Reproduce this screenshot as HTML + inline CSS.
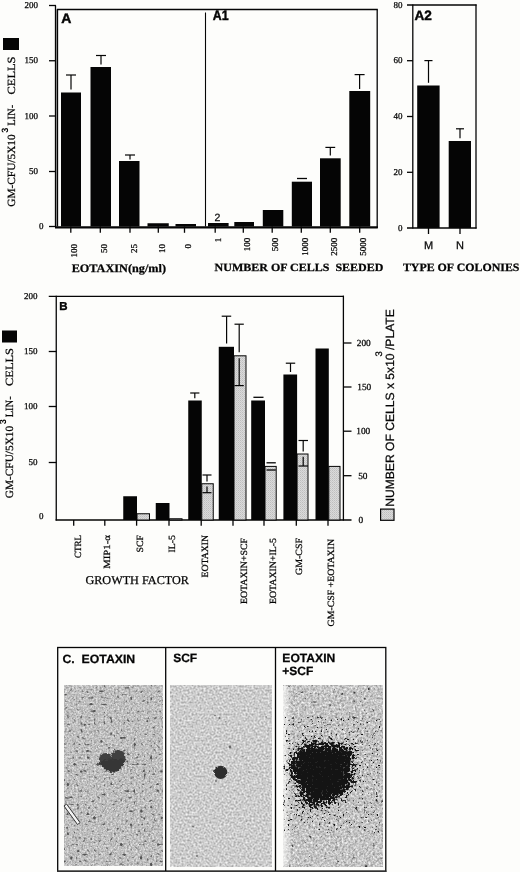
<!DOCTYPE html>
<html><head><meta charset="utf-8"><title>Figure</title>
<style>html,body{margin:0;padding:0;background:#fdfdfb;}body{width:520px;height:872px;overflow:hidden;font-family:"Liberation Sans",sans-serif;}svg{display:block;text-rendering:geometricPrecision;opacity:0.999;will-change:transform;filter:blur(0.35px)}text{white-space:pre}</style>
</head><body>
<svg width="520" height="872" viewBox="0 0 520 872">
<rect width="520" height="872" fill="#fdfdfb"/>

<defs>
<clipPath id="c3"><rect x="283" y="685.7" width="99.4" height="180.4"/></clipPath>
<pattern id="dots" width="2" height="2" patternUnits="userSpaceOnUse"><rect width="2" height="2" fill="#dadada"/><rect width="1" height="1" fill="#bebebe"/><rect x="1" y="1" width="1" height="1" fill="#cacaca"/></pattern>
<radialGradient id="big"><stop offset="0" stop-color="#000" stop-opacity="1"/><stop offset="0.45" stop-color="#000" stop-opacity="0.95"/><stop offset="0.75" stop-color="#000" stop-opacity="0.5"/><stop offset="1" stop-color="#000" stop-opacity="0"/></radialGradient>
<filter id="n1" x="0" y="0" width="1" height="1" color-interpolation-filters="sRGB">
  <feTurbulence type="fractalNoise" baseFrequency="0.55" numOctaves="3" seed="4" result="t"/>
  <feColorMatrix in="t" type="matrix" values="0.5 0 0 0 0.5  0.5 0 0 0 0.5  0.5 0 0 0 0.5  0 0 0 0 1" result="g"/>
  <feTurbulence type="fractalNoise" baseFrequency="0.3" numOctaves="1" seed="11" result="s"/>
  <feColorMatrix in="s" type="matrix" values="0 0 0 0 0  0 0 0 0 0  0 0 0 0 0  8 0 0 0 -5.05" result="sp"/>
  <feFlood flood-color="#555" result="fl"/>
  <feComposite in="fl" in2="sp" operator="in" result="spk"/>
  <feComposite in="spk" in2="g" operator="over" result="c"/>
  <feGaussianBlur in="c" stdDeviation="0.5"/>
</filter>
<filter id="n2" x="0" y="0" width="1" height="1" color-interpolation-filters="sRGB">
  <feTurbulence type="fractalNoise" baseFrequency="0.5" numOctaves="3" seed="7" result="t"/>
  <feColorMatrix in="t" type="matrix" values="0.5 0 0 0 0.55  0.5 0 0 0 0.55  0.5 0 0 0 0.55  0 0 0 0 1" result="g"/>
  <feTurbulence type="fractalNoise" baseFrequency="0.2" numOctaves="2" seed="21" result="s"/>
  <feColorMatrix in="s" type="matrix" values="0 0 0 0 0  0 0 0 0 0  0 0 0 0 0  7 0 0 0 -5.6" result="sp"/>
  <feFlood flood-color="#666" result="fl"/>
  <feComposite in="fl" in2="sp" operator="in" result="spk"/>
  <feComposite in="spk" in2="g" operator="over" result="c"/>
  <feGaussianBlur in="c" stdDeviation="0.45"/>
</filter>
<filter id="n3" x="0" y="0" width="1" height="1" color-interpolation-filters="sRGB">
  <feTurbulence type="fractalNoise" baseFrequency="0.45" numOctaves="3" seed="9" result="t"/>
  <feColorMatrix in="t" type="matrix" values="0.6 0 0 0 0.47  0.6 0 0 0 0.47  0.6 0 0 0 0.47  0 0 0 0 1" result="g"/>
  <feTurbulence type="fractalNoise" baseFrequency="0.25" numOctaves="2" seed="31" result="s"/>
  <feColorMatrix in="s" type="matrix" values="0 0 0 0 0  0 0 0 0 0  0 0 0 0 0  7 0 0 0 -4.9" result="sp"/>
  <feFlood flood-color="#3c3c3c" result="fl"/>
  <feComposite in="fl" in2="sp" operator="in" result="spk"/>
  <feComposite in="spk" in2="g" operator="over" result="c"/>
  <feGaussianBlur in="c" stdDeviation="0.45"/>
</filter>
<filter id="rag1" x="-0.4" y="-0.4" width="1.8" height="1.8" color-interpolation-filters="sRGB">
  <feTurbulence type="fractalNoise" baseFrequency="0.3" numOctaves="2" seed="5" result="t"/>
  <feDisplacementMap in="SourceGraphic" in2="t" scale="4" xChannelSelector="R" yChannelSelector="G" result="d"/>
  <feGaussianBlur in="d" stdDeviation="0.7"/>
</filter>
<filter id="rag2" x="-0.4" y="-0.4" width="1.8" height="1.8" color-interpolation-filters="sRGB">
  <feTurbulence type="fractalNoise" baseFrequency="0.4" numOctaves="2" seed="8" result="t"/>
  <feDisplacementMap in="SourceGraphic" in2="t" scale="2.5" xChannelSelector="R" yChannelSelector="G" result="d"/>
  <feGaussianBlur in="d" stdDeviation="0.7"/>
</filter>
<filter id="rag3" x="-0.4" y="-0.4" width="1.8" height="1.8" color-interpolation-filters="sRGB">
  <feGaussianBlur in="SourceAlpha" stdDeviation="5.5" result="b"/>
  <feTurbulence type="fractalNoise" baseFrequency="0.42" numOctaves="2" seed="15" result="t"/>
  <feColorMatrix in="t" type="matrix" values="0 0 0 0 0  0 0 0 0 0  0 0 0 0 0  2.0 0 0 0 -0.6" result="na"/>
  <feComposite in="b" in2="na" operator="arithmetic" k1="0" k2="0.5" k3="0.55" k4="0" result="sum"/>
  <feComponentTransfer in="sum" result="th"><feFuncA type="linear" slope="8" intercept="-3.1"/></feComponentTransfer>
  <feFlood flood-color="#141414" result="fl"/>
  <feComposite in="fl" in2="th" operator="in" result="col"/>
  <feGaussianBlur in="col" stdDeviation="0.5"/>
</filter>
<linearGradient id="fadeL" x1="0" x2="1" y1="0" y2="0"><stop offset="0" stop-color="#fdfdfb" stop-opacity="0.75"/><stop offset="1" stop-color="#fdfdfb" stop-opacity="0"/></linearGradient>
</defs>

<line x1="55.5" y1="5.5" x2="55.5" y2="227.1" stroke="#050505" stroke-width="1.3"/>
<line x1="49" y1="5.5" x2="56" y2="5.5" stroke="#050505" stroke-width="1.3"/>
<line x1="49" y1="60.75" x2="56" y2="60.75" stroke="#050505" stroke-width="1.3"/>
<line x1="49" y1="116" x2="56" y2="116" stroke="#050505" stroke-width="1.3"/>
<line x1="49" y1="171.5" x2="56" y2="171.5" stroke="#050505" stroke-width="1.3"/>
<line x1="49" y1="226.5" x2="56" y2="226.5" stroke="#050505" stroke-width="1.3"/>
<line x1="57.5" y1="9.5" x2="57.5" y2="226.5" stroke="#050505" stroke-width="1.3"/>
<line x1="56.5" y1="9.5" x2="56.5" y2="226.5" stroke="#777" stroke-width="0.9"/>
<line x1="56.9" y1="9.5" x2="377.8" y2="9.5" stroke="#050505" stroke-width="1.3"/>
<line x1="377.2" y1="9.5" x2="377.2" y2="228.0" stroke="#050505" stroke-width="1.3"/>
<line x1="55" y1="227.4" x2="377.8" y2="227.4" stroke="#050505" stroke-width="2.2"/>
<line x1="205.5" y1="12.5" x2="205.5" y2="226.5" stroke="#050505" stroke-width="1.1"/>
<text x="37.9" y="8.0" font-family="'Liberation Serif', serif" font-size="9" font-weight="normal" text-anchor="end" fill="#050505" stroke="#050505" stroke-width="0.25" >200</text>
<text x="37.9" y="63.25" font-family="'Liberation Serif', serif" font-size="9" font-weight="normal" text-anchor="end" fill="#050505" stroke="#050505" stroke-width="0.25" >150</text>
<text x="37.9" y="118.5" font-family="'Liberation Serif', serif" font-size="9" font-weight="normal" text-anchor="end" fill="#050505" stroke="#050505" stroke-width="0.25" >100</text>
<text x="37.9" y="174.0" font-family="'Liberation Serif', serif" font-size="9" font-weight="normal" text-anchor="end" fill="#050505" stroke="#050505" stroke-width="0.25" >50</text>
<text x="39" y="229.1" font-family="'Liberation Serif', serif" font-size="9" font-weight="normal" text-anchor="start" fill="#050505" stroke="#050505" stroke-width="0.25" >0</text>
<rect x="3" y="38" width="16" height="12" fill="#050505" />
<rect x="61" y="92.5" width="20" height="134.0" fill="#050505" />
<rect x="90.5" y="67" width="20.5" height="159.5" fill="#050505" />
<rect x="119" y="161" width="20.5" height="65.5" fill="#050505" />
<rect x="147.5" y="223.25" width="21.25" height="3.25" fill="#050505" />
<rect x="175.5" y="224" width="20.5" height="2.5" fill="#050505" />
<rect x="208" y="223" width="20.6" height="3.5" fill="#050505" />
<rect x="234.3" y="222" width="19.7" height="4.5" fill="#050505" />
<rect x="262.8" y="210" width="20.5" height="16.5" fill="#050505" />
<rect x="291.8" y="181.7" width="20.2" height="44.8" fill="#050505" />
<rect x="320" y="158.3" width="20.7" height="68.2" fill="#050505" />
<rect x="349.3" y="91" width="20.9" height="135.5" fill="#050505" />
<line x1="71" y1="75" x2="71" y2="89.5" stroke="#050505" stroke-width="1.2"/>
<line x1="66" y1="75" x2="76" y2="75" stroke="#050505" stroke-width="1.2"/>
<line x1="101" y1="55.5" x2="101" y2="64.5" stroke="#050505" stroke-width="1.2"/>
<line x1="96" y1="55.5" x2="106" y2="55.5" stroke="#050505" stroke-width="1.2"/>
<line x1="130" y1="155" x2="130" y2="159.5" stroke="#050505" stroke-width="1.2"/>
<line x1="125" y1="155" x2="135" y2="155" stroke="#050505" stroke-width="1.2"/>
<line x1="297" y1="178.5" x2="307" y2="178.5" stroke="#050505" stroke-width="1.3"/>
<line x1="330.3" y1="147.4" x2="330.3" y2="155.4" stroke="#050505" stroke-width="1.2"/>
<line x1="325.4" y1="147.4" x2="335.2" y2="147.4" stroke="#050505" stroke-width="1.2"/>
<line x1="359.6" y1="74.6" x2="359.6" y2="89" stroke="#050505" stroke-width="1.2"/>
<line x1="354.6" y1="74.6" x2="364.6" y2="74.6" stroke="#050505" stroke-width="1.2"/>
<line x1="70.8" y1="226.5" x2="70.8" y2="232.8" stroke="#050505" stroke-width="1.3"/>
<line x1="100.3" y1="226.5" x2="100.3" y2="232.8" stroke="#050505" stroke-width="1.3"/>
<line x1="130" y1="226.5" x2="130" y2="232.8" stroke="#050505" stroke-width="1.3"/>
<line x1="158.3" y1="226.5" x2="158.3" y2="232.8" stroke="#050505" stroke-width="1.3"/>
<line x1="184.5" y1="226.5" x2="184.5" y2="232.8" stroke="#050505" stroke-width="1.3"/>
<line x1="215.2" y1="226.5" x2="215.2" y2="232.8" stroke="#050505" stroke-width="1.3"/>
<line x1="243.3" y1="226.5" x2="243.3" y2="232.8" stroke="#050505" stroke-width="1.3"/>
<line x1="272.2" y1="226.5" x2="272.2" y2="232.8" stroke="#050505" stroke-width="1.3"/>
<line x1="301.3" y1="226.5" x2="301.3" y2="232.8" stroke="#050505" stroke-width="1.3"/>
<line x1="330.3" y1="226.5" x2="330.3" y2="232.8" stroke="#050505" stroke-width="1.3"/>
<line x1="359.7" y1="226.5" x2="359.7" y2="232.8" stroke="#050505" stroke-width="1.3"/>
<text x="77.39999999999999" y="244" font-family="'Liberation Serif', serif" font-size="9" font-weight="normal" text-anchor="end" fill="#050505" stroke="#050505" stroke-width="0.25" transform="rotate(-90 77.39999999999999 244)" >100</text>
<text x="106.89999999999999" y="244" font-family="'Liberation Serif', serif" font-size="9" font-weight="normal" text-anchor="end" fill="#050505" stroke="#050505" stroke-width="0.25" transform="rotate(-90 106.89999999999999 244)" >50</text>
<text x="136.6" y="244" font-family="'Liberation Serif', serif" font-size="9" font-weight="normal" text-anchor="end" fill="#050505" stroke="#050505" stroke-width="0.25" transform="rotate(-90 136.6 244)" >25</text>
<text x="164.9" y="244" font-family="'Liberation Serif', serif" font-size="9" font-weight="normal" text-anchor="end" fill="#050505" stroke="#050505" stroke-width="0.25" transform="rotate(-90 164.9 244)" >10</text>
<text x="191.1" y="244" font-family="'Liberation Serif', serif" font-size="9" font-weight="normal" text-anchor="end" fill="#050505" stroke="#050505" stroke-width="0.25" transform="rotate(-90 191.1 244)" >0</text>
<text x="221.5" y="237.8" font-family="'Liberation Serif', serif" font-size="9" font-weight="normal" text-anchor="end" fill="#050505" stroke="#050505" stroke-width="0.25" transform="rotate(-90 221.5 237.8)" >1</text>
<text x="249.60000000000002" y="237.8" font-family="'Liberation Serif', serif" font-size="9" font-weight="normal" text-anchor="end" fill="#050505" stroke="#050505" stroke-width="0.25" transform="rotate(-90 249.60000000000002 237.8)" >100</text>
<text x="278.5" y="237.8" font-family="'Liberation Serif', serif" font-size="9" font-weight="normal" text-anchor="end" fill="#050505" stroke="#050505" stroke-width="0.25" transform="rotate(-90 278.5 237.8)" >500</text>
<text x="307.6" y="237.8" font-family="'Liberation Serif', serif" font-size="9" font-weight="normal" text-anchor="end" fill="#050505" stroke="#050505" stroke-width="0.25" transform="rotate(-90 307.6 237.8)" >1000</text>
<text x="336.6" y="237.8" font-family="'Liberation Serif', serif" font-size="9" font-weight="normal" text-anchor="end" fill="#050505" stroke="#050505" stroke-width="0.25" transform="rotate(-90 336.6 237.8)" >2500</text>
<text x="366.0" y="237.8" font-family="'Liberation Serif', serif" font-size="9" font-weight="normal" text-anchor="end" fill="#050505" stroke="#050505" stroke-width="0.25" transform="rotate(-90 366.0 237.8)" >5000</text>
<text x="214.5" y="221.2" font-family="'Liberation Sans', sans-serif" font-size="10.5" font-weight="normal" text-anchor="start" fill="#050505" stroke="#050505" stroke-width="0.25" >2</text>
<text x="61.2" y="23.1" font-family="'Liberation Sans', sans-serif" font-size="14" font-weight="bold" text-anchor="start" fill="#050505" stroke="#050505" stroke-width="0.45" >A</text>
<text x="212.8" y="20.4" font-family="'Liberation Sans', sans-serif" font-size="13.8" font-weight="bold" text-anchor="start" fill="#050505" stroke="#050505" stroke-width="0.45" textLength="15.8" lengthAdjust="spacingAndGlyphs" >A1</text>
<text x="71.7" y="271.5" font-family="'Liberation Serif', serif" font-size="11.5" font-weight="bold" text-anchor="start" fill="#050505" stroke="#050505" stroke-width="0.25" textLength="94.3" lengthAdjust="spacingAndGlyphs" >EOTAXIN(ng/ml)</text>
<text x="214.6" y="270.8" font-family="'Liberation Serif', serif" font-size="11" font-weight="bold" text-anchor="start" fill="#050505" stroke="#050505" stroke-width="0.25" textLength="168.8" lengthAdjust="spacingAndGlyphs" xml:space="preserve">NUMBER OF CELLS&#160;&#160;SEEDED</text>
<text x="14.8" y="206.8" font-family="'Liberation Serif', serif" font-size="11" font-weight="normal" text-anchor="start" fill="#050505" stroke="#050505" stroke-width="0.25" transform="rotate(-90 14.8 206.8)" textLength="72.5" lengthAdjust="spacingAndGlyphs" >GM-CFU/5X10</text>
<text x="7.9" y="132.8" font-family="'Liberation Sans', sans-serif" font-size="9.2" font-weight="bold" text-anchor="start" fill="#050505" stroke="#050505" stroke-width="0" transform="rotate(-90 7.9 132.8)" >3</text>
<text x="14.8" y="125.80000000000001" font-family="'Liberation Serif', serif" font-size="11" font-weight="normal" text-anchor="start" fill="#050505" stroke="#050505" stroke-width="0.25" transform="rotate(-90 14.8 125.80000000000001)" textLength="21" lengthAdjust="spacingAndGlyphs" >LIN-</text>
<text x="14.8" y="94.50000000000001" font-family="'Liberation Serif', serif" font-size="11" font-weight="normal" text-anchor="start" fill="#050505" stroke="#050505" stroke-width="0.25" transform="rotate(-90 14.8 94.50000000000001)" textLength="38" lengthAdjust="spacingAndGlyphs" >CELLS</text>
<line x1="412.8" y1="4.4" x2="412.8" y2="228.6" stroke="#050505" stroke-width="1.3"/>
<line x1="476" y1="4.4" x2="476" y2="228.6" stroke="#050505" stroke-width="1.3"/>
<line x1="407" y1="5" x2="476.6" y2="5" stroke="#050505" stroke-width="1.3"/>
<line x1="407" y1="228" x2="476.6" y2="228" stroke="#050505" stroke-width="1.4"/>
<line x1="407" y1="60.7" x2="413" y2="60.7" stroke="#050505" stroke-width="1.3"/>
<line x1="407" y1="116.5" x2="413" y2="116.5" stroke="#050505" stroke-width="1.3"/>
<line x1="407" y1="172.3" x2="413" y2="172.3" stroke="#050505" stroke-width="1.3"/>
<text x="402.4" y="7.6" font-family="'Liberation Serif', serif" font-size="9" font-weight="normal" text-anchor="end" fill="#050505" stroke="#050505" stroke-width="0.25" >80</text>
<text x="402.4" y="63.300000000000004" font-family="'Liberation Serif', serif" font-size="9" font-weight="normal" text-anchor="end" fill="#050505" stroke="#050505" stroke-width="0.25" >60</text>
<text x="402.4" y="119.1" font-family="'Liberation Serif', serif" font-size="9" font-weight="normal" text-anchor="end" fill="#050505" stroke="#050505" stroke-width="0.25" >40</text>
<text x="402.4" y="174.9" font-family="'Liberation Serif', serif" font-size="9" font-weight="normal" text-anchor="end" fill="#050505" stroke="#050505" stroke-width="0.25" >20</text>
<text x="402.4" y="230.6" font-family="'Liberation Serif', serif" font-size="9" font-weight="normal" text-anchor="end" fill="#050505" stroke="#050505" stroke-width="0.25" >0</text>
<rect x="417.2" y="85.5" width="22.4" height="142.5" fill="#050505" />
<rect x="448.7" y="141" width="22.3" height="87" fill="#050505" />
<line x1="428.5" y1="60.6" x2="428.5" y2="82.8" stroke="#050505" stroke-width="1.2"/>
<line x1="424.4" y1="60.6" x2="432.5" y2="60.6" stroke="#050505" stroke-width="1.2"/>
<line x1="460" y1="128.8" x2="460" y2="138.2" stroke="#050505" stroke-width="1.2"/>
<line x1="456" y1="128.8" x2="464" y2="128.8" stroke="#050505" stroke-width="1.2"/>
<line x1="428.5" y1="228" x2="428.5" y2="234" stroke="#050505" stroke-width="1.3"/>
<line x1="460" y1="228" x2="460" y2="234" stroke="#050505" stroke-width="1.3"/>
<text x="428.6" y="248.7" font-family="'Liberation Sans', sans-serif" font-size="11" font-weight="normal" text-anchor="middle" fill="#050505" stroke="#050505" stroke-width="0.25" >M</text>
<text x="460" y="248.7" font-family="'Liberation Sans', sans-serif" font-size="11" font-weight="normal" text-anchor="middle" fill="#050505" stroke="#050505" stroke-width="0.25" >N</text>
<text x="414.4" y="19.7" font-family="'Liberation Sans', sans-serif" font-size="13.6" font-weight="bold" text-anchor="start" fill="#050505" stroke="#050505" stroke-width="0.45" >A2</text>
<text x="402.9" y="271" font-family="'Liberation Serif', serif" font-size="11.2" font-weight="bold" text-anchor="start" fill="#050505" stroke="#050505" stroke-width="0.25" textLength="116.6" lengthAdjust="spacingAndGlyphs" >TYPE OF COLONIES</text>
<line x1="56.25" y1="295.7" x2="56.25" y2="520.6" stroke="#050505" stroke-width="1.3"/>
<line x1="343.4" y1="295.7" x2="343.4" y2="520.6" stroke="#050505" stroke-width="1.3"/>
<line x1="48.75" y1="296.3" x2="344" y2="296.3" stroke="#050505" stroke-width="1.3"/>
<line x1="55.6" y1="520" x2="351.5" y2="520" stroke="#050505" stroke-width="1.4"/>
<line x1="48.75" y1="351.5" x2="56.5" y2="351.5" stroke="#050505" stroke-width="1.3"/>
<line x1="48.75" y1="406.5" x2="56.5" y2="406.5" stroke="#050505" stroke-width="1.3"/>
<line x1="48.75" y1="462.5" x2="56.5" y2="462.5" stroke="#050505" stroke-width="1.3"/>
<text x="37.6" y="298.90000000000003" font-family="'Liberation Serif', serif" font-size="9" font-weight="normal" text-anchor="end" fill="#050505" stroke="#050505" stroke-width="0.25" >200</text>
<text x="37.6" y="354.1" font-family="'Liberation Serif', serif" font-size="9" font-weight="normal" text-anchor="end" fill="#050505" stroke="#050505" stroke-width="0.25" >150</text>
<text x="37.6" y="409.1" font-family="'Liberation Serif', serif" font-size="9" font-weight="normal" text-anchor="end" fill="#050505" stroke="#050505" stroke-width="0.25" >100</text>
<text x="37.6" y="465.1" font-family="'Liberation Serif', serif" font-size="9" font-weight="normal" text-anchor="end" fill="#050505" stroke="#050505" stroke-width="0.25" >50</text>
<text x="39" y="519.4" font-family="'Liberation Serif', serif" font-size="9" font-weight="normal" text-anchor="start" fill="#050505" stroke="#050505" stroke-width="0.25" >0</text>
<line x1="343.4" y1="475.7" x2="351.5" y2="475.7" stroke="#050505" stroke-width="1.3"/>
<line x1="343.4" y1="431.2" x2="351.5" y2="431.2" stroke="#050505" stroke-width="1.3"/>
<line x1="343.4" y1="387" x2="351.5" y2="387" stroke="#050505" stroke-width="1.3"/>
<line x1="343.4" y1="343" x2="351.5" y2="343" stroke="#050505" stroke-width="1.3"/>
<text x="356.8" y="346.1" font-family="'Liberation Serif', serif" font-size="9.3" font-weight="normal" text-anchor="start" fill="#050505" stroke="#050505" stroke-width="0.25" >200</text>
<text x="357.3" y="390.1" font-family="'Liberation Serif', serif" font-size="9.3" font-weight="normal" text-anchor="start" fill="#050505" stroke="#050505" stroke-width="0.25" >150</text>
<text x="356.3" y="434.3" font-family="'Liberation Serif', serif" font-size="9.3" font-weight="normal" text-anchor="start" fill="#050505" stroke="#050505" stroke-width="0.25" >100</text>
<text x="358.2" y="478.8" font-family="'Liberation Serif', serif" font-size="9.3" font-weight="normal" text-anchor="start" fill="#050505" stroke="#050505" stroke-width="0.25" >50</text>
<text x="358.6" y="523.1" font-family="'Liberation Serif', serif" font-size="9.3" font-weight="normal" text-anchor="start" fill="#050505" stroke="#050505" stroke-width="0.25" >0</text>
<rect x="2" y="330.5" width="15" height="12.0" fill="#050505" />
<text x="59.2" y="309.8" font-family="'Liberation Sans', sans-serif" font-size="11.5" font-weight="bold" text-anchor="start" fill="#050505" stroke="#050505" stroke-width="0.4" >B</text>
<rect x="123.25" y="496.25" width="13.75" height="23.75" fill="#050505" />
<rect x="137" y="513.75" width="12.5" height="6.25" fill="url(#dots)" stroke="#050505" stroke-width="1"/>
<rect x="155.75" y="503" width="13.75" height="17" fill="#050505" />
<rect x="169.5" y="518.75" width="12.5" height="1.25" fill="url(#dots)" stroke="#050505" stroke-width="1"/>
<rect x="188.25" y="400.5" width="13.5" height="119.5" fill="#050505" />
<rect x="201.75" y="483.75" width="11.5" height="36.25" fill="url(#dots)" stroke="#050505" stroke-width="1"/>
<rect x="218.75" y="346.8" width="15.25" height="173.2" fill="#050505" />
<rect x="234" y="355.8" width="12.0" height="164.2" fill="url(#dots)" stroke="#050505" stroke-width="1"/>
<rect x="251.2" y="400.5" width="13.8" height="119.5" fill="#050505" />
<rect x="265" y="466.4" width="11.2" height="53.6" fill="url(#dots)" stroke="#050505" stroke-width="1"/>
<rect x="283.4" y="374.5" width="13.7" height="145.5" fill="#050505" />
<rect x="297.1" y="454" width="10.9" height="66" fill="url(#dots)" stroke="#050505" stroke-width="1"/>
<rect x="315.5" y="348.5" width="13.3" height="171.5" fill="#050505" />
<rect x="328.8" y="466.4" width="11.2" height="53.6" fill="url(#dots)" stroke="#050505" stroke-width="1"/>
<line x1="194.8" y1="393" x2="194.8" y2="398.2" stroke="#050505" stroke-width="1.2"/>
<line x1="190.2" y1="393" x2="199.4" y2="393" stroke="#050505" stroke-width="1.2"/>
<line x1="207" y1="475" x2="207" y2="481.5" stroke="#050505" stroke-width="1.2"/>
<line x1="202.5" y1="475" x2="211.5" y2="475" stroke="#050505" stroke-width="1.2"/>
<line x1="207" y1="492.7" x2="207" y2="486.5" stroke="#050505" stroke-width="1.2"/>
<line x1="202.5" y1="492.7" x2="211.5" y2="492.7" stroke="#050505" stroke-width="1.2"/>
<line x1="226.6" y1="316.2" x2="226.6" y2="343.6" stroke="#050505" stroke-width="1.2"/>
<line x1="221.7" y1="316.2" x2="231.2" y2="316.2" stroke="#050505" stroke-width="1.2"/>
<line x1="239.2" y1="324.2" x2="239.2" y2="352.3" stroke="#050505" stroke-width="1.2"/>
<line x1="234.5" y1="324.2" x2="243.8" y2="324.2" stroke="#050505" stroke-width="1.2"/>
<line x1="239.2" y1="385.6" x2="239.2" y2="358.2" stroke="#050505" stroke-width="1.2"/>
<line x1="234.5" y1="385.6" x2="243.8" y2="385.6" stroke="#050505" stroke-width="1.2"/>
<line x1="253.4" y1="397.3" x2="263.5" y2="397.3" stroke="#050505" stroke-width="1.3"/>
<line x1="266.5" y1="462.8" x2="275.8" y2="462.8" stroke="#050505" stroke-width="1.3"/>
<line x1="266.5" y1="470" x2="275.8" y2="470" stroke="#050505" stroke-width="1.3"/>
<line x1="290.5" y1="363.2" x2="290.5" y2="372" stroke="#050505" stroke-width="1.2"/>
<line x1="285.8" y1="363.2" x2="295.2" y2="363.2" stroke="#050505" stroke-width="1.2"/>
<line x1="303.2" y1="440.5" x2="303.2" y2="451.5" stroke="#050505" stroke-width="1.2"/>
<line x1="298.5" y1="440.5" x2="308" y2="440.5" stroke="#050505" stroke-width="1.2"/>
<line x1="303.2" y1="466" x2="303.2" y2="456.8" stroke="#050505" stroke-width="1.2"/>
<line x1="298.5" y1="466" x2="308" y2="466" stroke="#050505" stroke-width="1.2"/>
<line x1="73.7" y1="520" x2="73.7" y2="525.7" stroke="#050505" stroke-width="1.3"/>
<line x1="104.8" y1="520" x2="104.8" y2="525.7" stroke="#050505" stroke-width="1.3"/>
<line x1="136.6" y1="520" x2="136.6" y2="525.7" stroke="#050505" stroke-width="1.3"/>
<line x1="169" y1="520" x2="169" y2="525.7" stroke="#050505" stroke-width="1.3"/>
<line x1="201.2" y1="520" x2="201.2" y2="525.7" stroke="#050505" stroke-width="1.3"/>
<line x1="233" y1="520" x2="233" y2="525.7" stroke="#050505" stroke-width="1.3"/>
<line x1="264" y1="520" x2="264" y2="525.7" stroke="#050505" stroke-width="1.3"/>
<line x1="296.3" y1="520" x2="296.3" y2="525.7" stroke="#050505" stroke-width="1.3"/>
<line x1="328" y1="520" x2="328" y2="525.7" stroke="#050505" stroke-width="1.3"/>
<text x="80.6" y="535" font-family="'Liberation Serif', serif" font-size="9.5" font-weight="normal" text-anchor="end" fill="#050505" stroke="#050505" stroke-width="0.25" transform="rotate(-90 80.6 535)" textLength="23" lengthAdjust="spacingAndGlyphs" >CTRL</text>
<text x="109.8" y="535" font-family="'Liberation Serif', serif" font-size="9.5" font-weight="normal" text-anchor="end" fill="#050505" stroke="#050505" stroke-width="0.25" transform="rotate(-90 109.8 535)" textLength="33.8" lengthAdjust="spacingAndGlyphs" >MIP1-&#945;</text>
<text x="142.8" y="535" font-family="'Liberation Serif', serif" font-size="9.5" font-weight="normal" text-anchor="end" fill="#050505" stroke="#050505" stroke-width="0.25" transform="rotate(-90 142.8 535)" textLength="17.5" lengthAdjust="spacingAndGlyphs" >SCF</text>
<text x="174.6" y="535" font-family="'Liberation Serif', serif" font-size="9.5" font-weight="normal" text-anchor="end" fill="#050505" stroke="#050505" stroke-width="0.25" transform="rotate(-90 174.6 535)" textLength="17.5" lengthAdjust="spacingAndGlyphs" >IL-5</text>
<text x="207.5" y="535" font-family="'Liberation Serif', serif" font-size="9.5" font-weight="normal" text-anchor="end" fill="#050505" stroke="#050505" stroke-width="0.25" transform="rotate(-90 207.5 535)" textLength="42.5" lengthAdjust="spacingAndGlyphs" >EOTAXIN</text>
<text x="247.3" y="538" font-family="'Liberation Serif', serif" font-size="9.5" font-weight="normal" text-anchor="end" fill="#050505" stroke="#050505" stroke-width="0.25" transform="rotate(-90 247.3 538)" textLength="66" lengthAdjust="spacingAndGlyphs" >EOTAXIN+SCF</text>
<text x="276" y="538" font-family="'Liberation Serif', serif" font-size="9.5" font-weight="normal" text-anchor="end" fill="#050505" stroke="#050505" stroke-width="0.25" transform="rotate(-90 276 538)" textLength="66" lengthAdjust="spacingAndGlyphs" >EOTAXIN+IL-5</text>
<text x="302.2" y="538" font-family="'Liberation Serif', serif" font-size="9.5" font-weight="normal" text-anchor="end" fill="#050505" stroke="#050505" stroke-width="0.25" transform="rotate(-90 302.2 538)" textLength="37" lengthAdjust="spacingAndGlyphs" >GM-CSF</text>
<text x="333.6" y="539" font-family="'Liberation Serif', serif" font-size="9.5" font-weight="normal" text-anchor="end" fill="#050505" stroke="#050505" stroke-width="0.25" transform="rotate(-90 333.6 539)" textLength="87.4" lengthAdjust="spacingAndGlyphs" >GM-CSF +EOTAXIN</text>
<text x="85.4" y="584.2" font-family="'Liberation Serif', serif" font-size="12" font-weight="normal" text-anchor="start" fill="#050505" stroke="#050505" stroke-width="0.25" textLength="103.6" lengthAdjust="spacingAndGlyphs" >GROWTH FACTOR</text>
<text x="13.3" y="498.3" font-family="'Liberation Serif', serif" font-size="11" font-weight="normal" text-anchor="start" fill="#050505" stroke="#050505" stroke-width="0.25" transform="rotate(-90 13.3 498.3)" textLength="72.5" lengthAdjust="spacingAndGlyphs" >GM-CFU/5X10</text>
<text x="6.4" y="424.3" font-family="'Liberation Sans', sans-serif" font-size="9.2" font-weight="bold" text-anchor="start" fill="#050505" stroke="#050505" stroke-width="0" transform="rotate(-90 6.4 424.3)" >3</text>
<text x="13.3" y="417.3" font-family="'Liberation Serif', serif" font-size="11" font-weight="normal" text-anchor="start" fill="#050505" stroke="#050505" stroke-width="0.25" transform="rotate(-90 13.3 417.3)" textLength="21" lengthAdjust="spacingAndGlyphs" >LIN-</text>
<text x="13.3" y="386.0" font-family="'Liberation Serif', serif" font-size="11" font-weight="normal" text-anchor="start" fill="#050505" stroke="#050505" stroke-width="0.25" transform="rotate(-90 13.3 386.0)" textLength="38" lengthAdjust="spacingAndGlyphs" >CELLS</text>
<text x="394.5" y="506.8" font-family="'Liberation Sans', sans-serif" font-size="12" font-weight="normal" text-anchor="start" fill="#050505" stroke="#050505" stroke-width="0.25" transform="rotate(-90 394.5 506.8)" textLength="197.6" lengthAdjust="spacingAndGlyphs" >NUMBER OF CELLS x 5x10 /PLATE</text>
<text x="382.2" y="356.5" font-family="'Liberation Sans', sans-serif" font-size="9.5" font-weight="normal" text-anchor="start" fill="#050505" stroke="#050505" stroke-width="0.25" transform="rotate(-90 382.2 356.5)" >3</text>
<rect x="380.6" y="509.1" width="13.4" height="11.2" fill="url(#dots)" stroke="#050505" stroke-width="1.2"/>
<rect x="57.7" y="647.5" width="328.1" height="223.8" fill="none" stroke="#050505" stroke-width="1.3"/>
<line x1="57" y1="871.3" x2="386.4" y2="871.3" stroke="#333" stroke-width="1.8"/>
<line x1="165.7" y1="647.4" x2="165.7" y2="871" stroke="#050505" stroke-width="1.3"/>
<line x1="275.5" y1="647.4" x2="275.5" y2="871" stroke="#050505" stroke-width="1.3"/>
<text x="62.5" y="662.9" font-family="'Liberation Sans', sans-serif" font-size="12" font-weight="bold" text-anchor="start" fill="#050505" stroke="#050505" stroke-width="0.25" textLength="72.7" lengthAdjust="spacingAndGlyphs" xml:space="preserve">C.&#160;&#160;EOTAXIN</text>
<text x="173.2" y="661.6" font-family="'Liberation Sans', sans-serif" font-size="12" font-weight="bold" text-anchor="start" fill="#050505" stroke="#050505" stroke-width="0.25" >SCF</text>
<text x="282.3" y="661.6" font-family="'Liberation Sans', sans-serif" font-size="12" font-weight="bold" text-anchor="start" fill="#050505" stroke="#050505" stroke-width="0.25" textLength="53" lengthAdjust="spacingAndGlyphs" >EOTAXIN</text>
<text x="282.3" y="675.2" font-family="'Liberation Sans', sans-serif" font-size="12" font-weight="bold" text-anchor="start" fill="#050505" stroke="#050505" stroke-width="0.25" >+SCF</text>
<rect x="64.3" y="685.5" width="98.4" height="180.2" fill="#bcbcbc" filter="url(#n1)"/>
<rect x="170.8" y="685.7" width="100.5" height="180.4" fill="#c9c9c9" filter="url(#n2)"/>
<rect x="283" y="685.7" width="99.4" height="180.4" fill="#b9b9b9" filter="url(#n3)"/>
<rect x="283" y="685.7" width="9" height="180.4" fill="url(#fadeL)"/>
<g filter="url(#rag1)"><ellipse cx="106" cy="760.5" rx="7.2" ry="7.5" fill="#404040"/><ellipse cx="118.5" cy="758" rx="7" ry="8" fill="#404040"/><path d="M99.5 762 Q112 757 125.5 760 Q123 770 112 773 Q103 771 99.5 762Z" fill="#363636"/></g>
<g filter="url(#rag2)"><circle cx="220.7" cy="772.3" r="6.6" fill="#2e2e2e"/></g>
<circle cx="219.5" cy="718" r="1.1" fill="#555" opacity="0.8"/>
<circle cx="215" cy="715.5" r="0.8" fill="#555" opacity="0.8"/>
<circle cx="230" cy="747" r="1.4" fill="#555" opacity="0.8"/>
<circle cx="197" cy="856" r="1.0" fill="#555" opacity="0.8"/>
<circle cx="193" cy="826.5" r="0.9" fill="#555" opacity="0.8"/>
<circle cx="237" cy="750" r="0.7" fill="#555" opacity="0.8"/>
<circle cx="216" cy="781" r="0.9" fill="#555" opacity="0.8"/>
<circle cx="249" cy="772" r="0.7" fill="#555" opacity="0.8"/>
<g clip-path="url(#c3)"><g filter="url(#rag3)"><ellipse cx="324" cy="773" rx="27.5" ry="30"/><ellipse cx="300" cy="768" rx="10.5" ry="16"/><ellipse cx="342" cy="756" rx="12" ry="12"/><ellipse cx="314" cy="798" rx="13" ry="9"/><ellipse cx="345" cy="778" rx="9" ry="13"/><ellipse cx="312" cy="750" rx="12" ry="8"/></g></g>
<g transform="translate(65.3,805) rotate(54)"><rect x="0" y="-1.6" width="23" height="3.2" fill="#f4f4f4" stroke="#333" stroke-width="0.9"/></g>
</svg>
</body></html>
